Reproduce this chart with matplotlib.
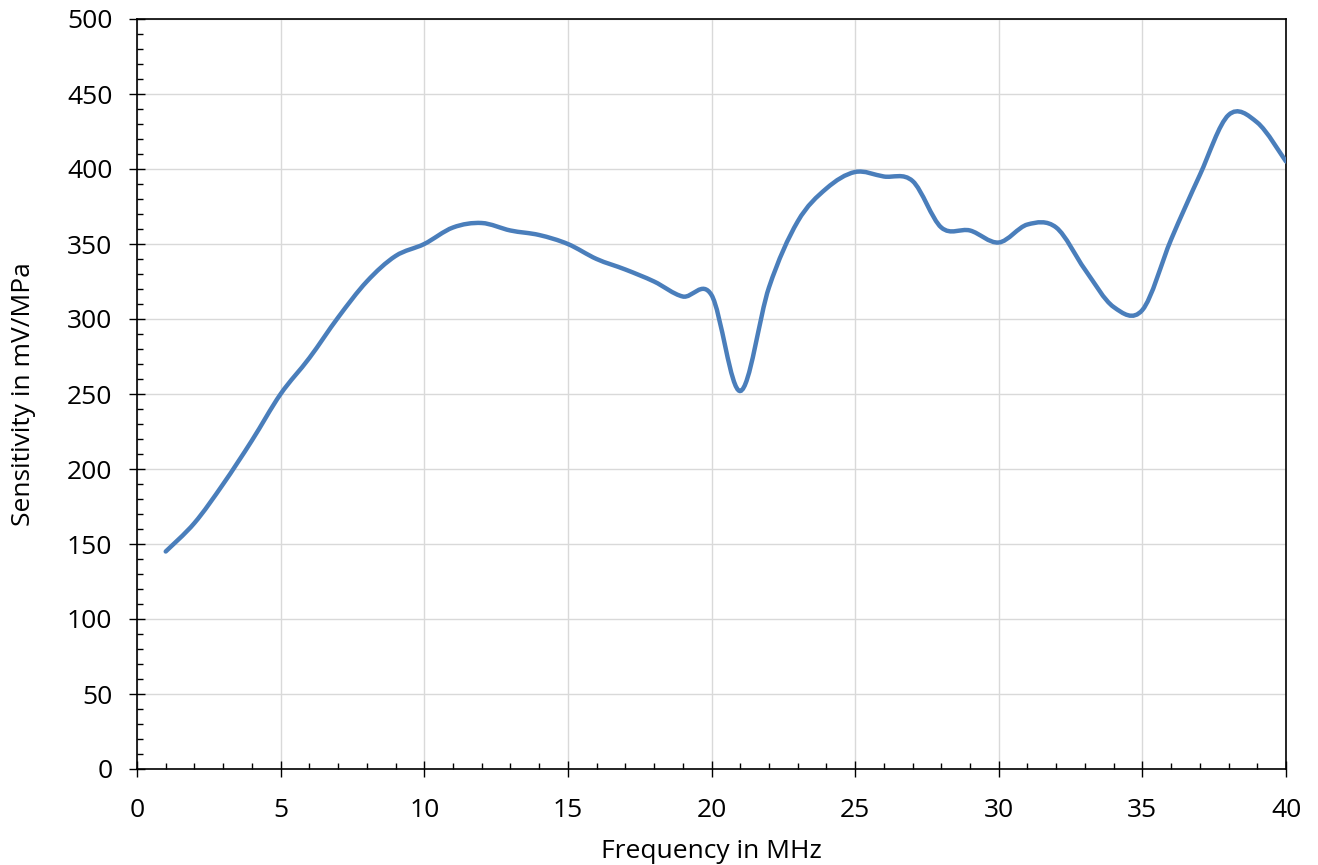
import numpy as np
import matplotlib.pyplot as plt
from matplotlib.path import Path
from matplotlib.patches import PathPatch
from matplotlib.ticker import MultipleLocator

plt.rcParams['font.family'] = ['Open Sans', 'DejaVu Sans']

# frequency in MHz and sensitivity in mV/MPa
freq = list(range(1, 41))
sens = [145, 164, 190, 219, 250, 274, 301, 325, 342, 350,
        361, 364, 359, 356, 350, 340, 333, 325, 315, 316,
        252, 321, 365, 387, 398, 395, 392, 361, 359, 351,
        363, 361, 333, 308, 306, 353, 396, 436, 431, 405]


def smooth_path(x, y):
    """bezier path through the points, like an office 'smoothed line'"""
    pts = np.column_stack([x, y]).astype(float)
    n = len(pts)
    verts = [pts[0]]
    codes = [Path.MOVETO]
    for i in range(n - 1):
        p0 = pts[max(i - 1, 0)]
        p1 = pts[i]
        p2 = pts[i + 1]
        p3 = pts[min(i + 2, n - 1)]
        c1 = p1 + (p2 - p0) / 6
        c2 = p2 - (p3 - p1) / 6
        verts += [c1, c2, p2]
        codes += [Path.CURVE4] * 3
    return Path(verts, codes)


fig = plt.figure(figsize=(13.18, 8.65), dpi=100)
ax = fig.add_axes([137 / 1318, 1 - 769 / 865, (1286 - 137) / 1318, (769 - 19) / 865])

ax.add_patch(PathPatch(smooth_path(freq, sens), fill=False,
                       edgecolor='#4a7ebb', lw=3.2, capstyle='round', zorder=3))

ax.set_xlim(0, 40)
ax.set_ylim(0, 500)
ax.xaxis.set_major_locator(MultipleLocator(5))
ax.xaxis.set_minor_locator(MultipleLocator(1))
ax.yaxis.set_major_locator(MultipleLocator(50))
ax.yaxis.set_minor_locator(MultipleLocator(10))

ax.grid(True, which='major', color='#d9d9d9', lw=1.0, zorder=0)
ax.set_axisbelow(True)

for s in ax.spines.values():
    s.set_color('black')
    s.set_linewidth(1.2)

ax.tick_params(which='major', direction='inout', length=11.5, width=1.0,
               labelsize=19, top=False, right=False)
ax.tick_params(axis='x', which='major', pad=15)
ax.tick_params(axis='y', which='major', pad=12)
ax.tick_params(which='minor', direction='in', length=4.5, width=1.0,
               top=False, right=False)

ax.set_xlabel('Frequency in MHz', fontsize=19, labelpad=12)
ax.set_ylabel('Sensitivity in mV/MPa', fontsize=19, labelpad=22)

fig.savefig('out.png', dpi=100)
plt.close()
